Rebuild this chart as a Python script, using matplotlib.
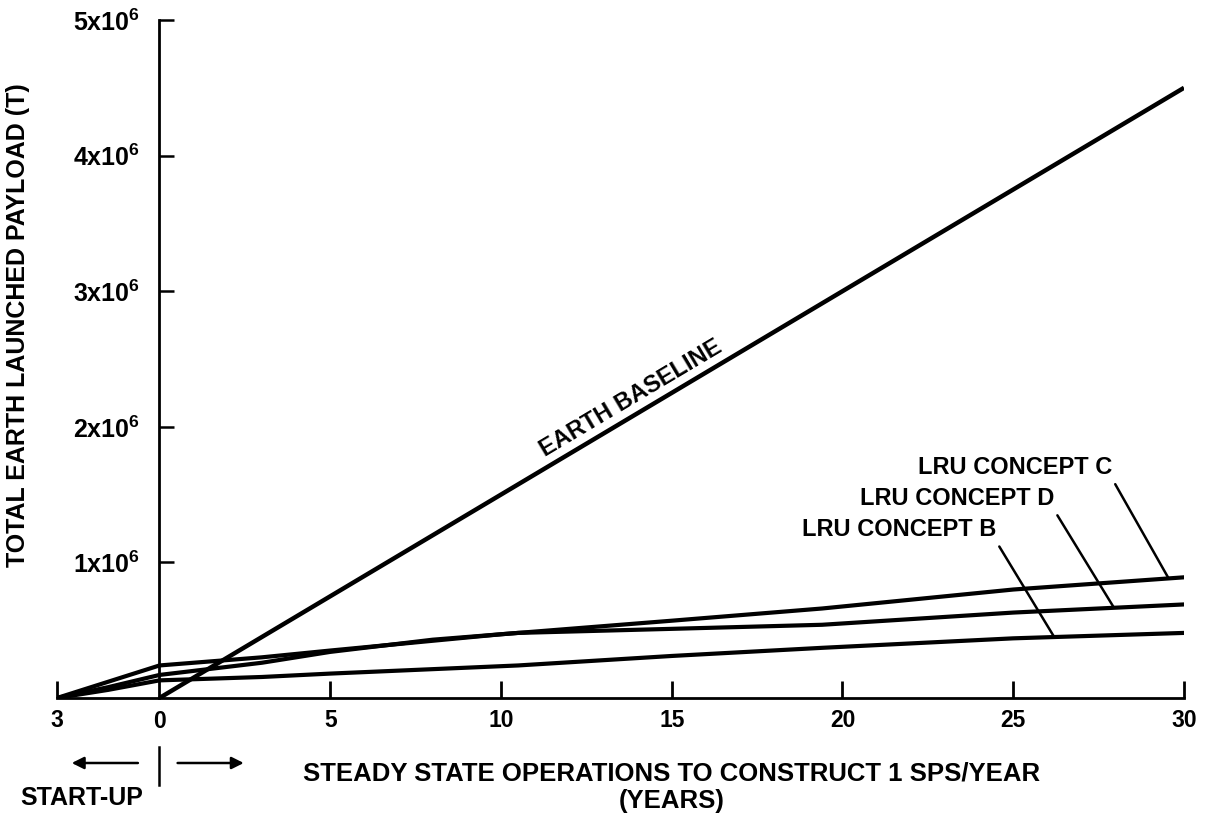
import numpy as np
import matplotlib
matplotlib.use("Agg")
import matplotlib.pyplot as plt
from matplotlib.transforms import blended_transform_factory

plt.rcParams['font.family'] = ['Liberation Sans', 'DejaVu Sans']
plt.rcParams['font.weight'] = 'bold'
plt.rcParams['mathtext.default'] = 'regular'

# ── datos (años, toneladas) ───────────────────────────────────────────────────
earth_years = [0, 30]
earth_payload = [0.0, 4.5e6]

lru_c_years = [-3, -1.5, 0, 3, 5, 10, 15, 19.4, 25, 30]
lru_c_payload = [0, 0.12e6, 0.24e6, 0.30e6, 0.35e6, 0.47e6, 0.57e6, 0.66e6, 0.80e6, 0.89e6]

lru_d_years = [-3, -1.5, 0, 3, 5, 8, 10.5, 15, 19.4, 25, 30]
lru_d_payload = [0, 0.08e6, 0.17e6, 0.26e6, 0.34e6, 0.43e6, 0.48e6, 0.51e6, 0.54e6, 0.63e6, 0.69e6]

lru_b_years = [-3, -1.5, 0, 3, 5, 10.5, 15, 19.4, 25, 30]
lru_b_payload = [0, 0.06e6, 0.13e6, 0.155e6, 0.18e6, 0.24e6, 0.31e6, 0.37e6, 0.44e6, 0.48e6]

x_ticks = [-3, 5, 10, 15, 20, 25, 30]
x_tick_labels = ['3', '5', '10', '15', '20', '25', '30']
y_ticks = [1e6, 2e6, 3e6, 4e6, 5e6]
y_tick_labels = ['1x10$^{6}$', '2x10$^{6}$', '3x10$^{6}$', '4x10$^{6}$', '5x10$^{6}$']

# ── figura ────────────────────────────────────────────────────────────────────
fig = plt.figure(figsize=(12.05, 8.21), dpi=100)
ax = fig.add_axes([57 / 1205, 1 - 698 / 821, (1184 - 57) / 1205, (698 - 20) / 821])
ax.set_xlim(-3, 30)
ax.set_ylim(0, 5e6)

LW = 3.0
ax.plot(earth_years, earth_payload, color='black', lw=3.2, solid_capstyle='butt')
ax.plot(lru_c_years, lru_c_payload, color='black', lw=LW)
ax.plot(lru_d_years, lru_d_payload, color='black', lw=LW)
ax.plot(lru_b_years, lru_b_payload, color='black', lw=LW)

# ejes estilo dibujo técnico
for s in ('top', 'right'):
    ax.spines[s].set_visible(False)
ax.spines['left'].set_position(('data', 0))
ax.spines['left'].set_linewidth(2.0)
ax.spines['bottom'].set_linewidth(2.0)

ax.set_xticks(x_ticks)
ax.set_xticklabels(x_tick_labels)
ax.set_yticks(y_ticks)
ax.set_yticklabels(y_tick_labels)
ax.tick_params(axis='x', direction='in', length=12, width=2.0, pad=8, labelsize=16.5)
ax.tick_params(axis='y', direction='in', length=11, width=1.8, pad=14, labelsize=18)

# "0" bajo el eje Y
ax.text(0, -0.0175, '0', transform=blended_transform_factory(ax.transData, ax.transAxes),
        ha='center', va='top', fontsize=16.5)

# etiqueta de la línea base (girada con la pendiente en pantalla)
p0 = ax.transData.transform((earth_years[0], earth_payload[0]))
p1 = ax.transData.transform((earth_years[1], earth_payload[1]))
ang = np.degrees(np.arctan2(p1[1] - p0[1], p1[0] - p0[0]))
ax.text(13.8, 2.21e6, 'EARTH BASELINE', rotation=ang, rotation_mode='anchor',
        ha='center', va='center', fontsize=17)

# etiquetas LRU con líneas guía
labels = [
    ('LRU CONCEPT C', lru_c_years, lru_c_payload, 29.55, (27.9, 1.70e6)),
    ('LRU CONCEPT D', lru_d_years, lru_d_payload, 27.95, (26.2, 1.47e6)),
    ('LRU CONCEPT B', lru_b_years, lru_b_payload, 26.2, (24.5, 1.24e6)),
]
for txt, xs, ys, xp, xyt in labels:
    yp = np.interp(xp, xs, ys)
    ax.annotate(txt, xy=(xp, yp), xytext=xyt, ha='right', va='center', fontsize=17,
                arrowprops=dict(arrowstyle='-', lw=1.8, color='black',
                                relpos=(1.0, 0.0), shrinkA=2, shrinkB=0))

# etiquetas de ejes
fig.text(18 / 1205, 1 - 325 / 821, 'TOTAL EARTH LAUNCHED PAYLOAD (T)', rotation=90,
         ha='center', va='center', fontsize=18)
fig.text(672 / 1205, 1 - 773 / 821, 'STEADY STATE OPERATIONS TO CONSTRUCT 1 SPS/YEAR',
         ha='center', va='center', fontsize=18.5)
fig.text(672 / 1205, 1 - 801 / 821, '(YEARS)', ha='center', va='center', fontsize=18.5)

# marcador de arranque bajo el eje
bt = blended_transform_factory(ax.transData, fig.transFigure)
ax.plot([0, 0], [1 - 747 / 821, 1 - 785 / 821], transform=bt, color='black', lw=1.8,
        clip_on=False)
ax.annotate('', xy=(-2.65, 1 - 763 / 821), xytext=(-0.55, 1 - 763 / 821),
            xycoords=bt, textcoords=bt,
            arrowprops=dict(arrowstyle='-|>', lw=1.8, color='black', mutation_scale=18))
ax.annotate('', xy=(2.55, 1 - 763 / 821), xytext=(0.45, 1 - 763 / 821),
            xycoords=bt, textcoords=bt,
            arrowprops=dict(arrowstyle='-|>', lw=1.8, color='black', mutation_scale=18))
fig.text(82 / 1205, 1 - 798 / 821, 'START-UP', ha='center', va='center', fontsize=18)

fig.savefig('out.png', dpi=100)
